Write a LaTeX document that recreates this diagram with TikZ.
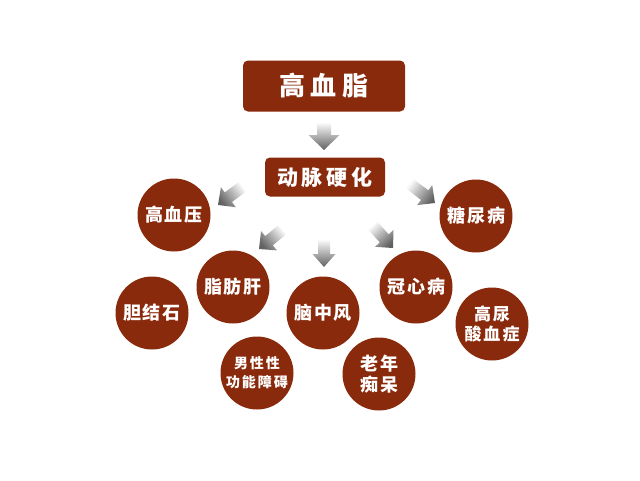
\documentclass[tikz,border=0pt]{standalone}
\usepackage{fontspec}
\newfontfamily\cjk{Noto Sans CJK SC}
\usetikzlibrary{calc}
\definecolor{brick}{HTML}{8A2A0C}
\tikzset{
  x=1pt, y=-1pt,
  titlebox/.style={fill=brick, rounded corners=5pt, text=white, inner sep=0pt, font=\cjk\bfseries},
  disc/.style={circle, fill=brick, minimum size=73pt, inner sep=0pt, text=white, align=center,
    font=\cjk\bfseries\fontsize{18}{21}\selectfont},
  garrowfill/.style={top color=gray!4, bottom color=black!62, draw=none}
}
\newcommand\gsp{\hspace{2pt}}
% tail, tip, shading angle, shaft half width, head half width, head length
\newcommand\blockarrow[6]{%
  \coordinate (ah-neck) at ($(#2)!#6!(#1)$);
  \shade[garrowfill, shading angle=#3]
    ($(#1)!#4!90:(#2)$) -- ($(ah-neck)!#4!90:(#2)$) -- ($(ah-neck)!#5!90:(#2)$) -- (#2)
    -- ($(ah-neck)!#5!-90:(#2)$) -- ($(ah-neck)!#4!-90:(#2)$) -- ($(#1)!#4!-90:(#2)$) -- cycle;
}
\begin{document}
\begin{tikzpicture}
\fill[white] (0,0) rectangle (640,480);
\useasboundingbox (0,0) rectangle (640,480);

\node[titlebox, minimum width=162pt, minimum height=51pt, font=\cjk\bfseries\fontsize{26}{28}\selectfont]
  (gxz) at (324,86) {高\hspace{6pt}血\hspace{6pt}脂};
\node[titlebox, minimum width=120pt, minimum height=39pt, font=\cjk\bfseries\fontsize{21}{24}\selectfont]
  (dmyh) at (325,177) {动\hspace{4pt}脉\hspace{4pt}硬\hspace{4pt}化};

\node[disc] (gxy) at (174,215) {高\gsp{}血\gsp{}压};
\node[disc] (tnb) at (476,216) {糖\gsp{}尿\gsp{}病};
\node[disc] (zfg) at (233,287) {脂\gsp{}肪\gsp{}肝};
\node[disc] (gxb) at (416,287) {冠\gsp{}心\gsp{}病};
\node[disc] (djs) at (152,313) {胆\gsp{}结\gsp{}石};
\node[disc] (nzf) at (323,313) {脑\gsp{}中\gsp{}风};
\node[disc, font=\cjk\bfseries\fontsize{17}{20}\selectfont] (gns) at (492,324) {高\gsp{}尿\\酸\gsp{}血\gsp{}症};
\node[disc, font=\cjk\bfseries\fontsize{14}{19}\selectfont] (nxg) at (257,373) {男\gsp{}性\gsp{}性\\功\gsp{}能\gsp{}障\gsp{}碍};
\node[disc] (lnc) at (379,374) {老\gsp{}年\\痴\gsp{}呆};

% arrows
\coordinate (a1t) at (324,123); \coordinate (a1h) at (324,150);
\coordinate (a2t) at (242,187); \coordinate (a2h) at (218,205);
\coordinate (a3t) at (282,230); \coordinate (a3h) at (259,249);
\coordinate (a4t) at (324,240); \coordinate (a4h) at (324,267);
\coordinate (a5t) at (373,226); \coordinate (a5h) at (393,248);
\coordinate (a6t) at (410,184); \coordinate (a6h) at (435,203);
\blockarrow{a1t}{a1h}{0}{7pt}{15.5pt}{15pt}
\blockarrow{a2t}{a2h}{-53}{6pt}{12.5pt}{13pt}
\blockarrow{a3t}{a3h}{-50}{6pt}{12.5pt}{13pt}
\blockarrow{a4t}{a4h}{0}{6pt}{11.5pt}{13pt}
\blockarrow{a5t}{a5h}{42}{6pt}{12.5pt}{13pt}
\blockarrow{a6t}{a6h}{53}{6pt}{12.5pt}{13pt}
\end{tikzpicture}
\end{document}
